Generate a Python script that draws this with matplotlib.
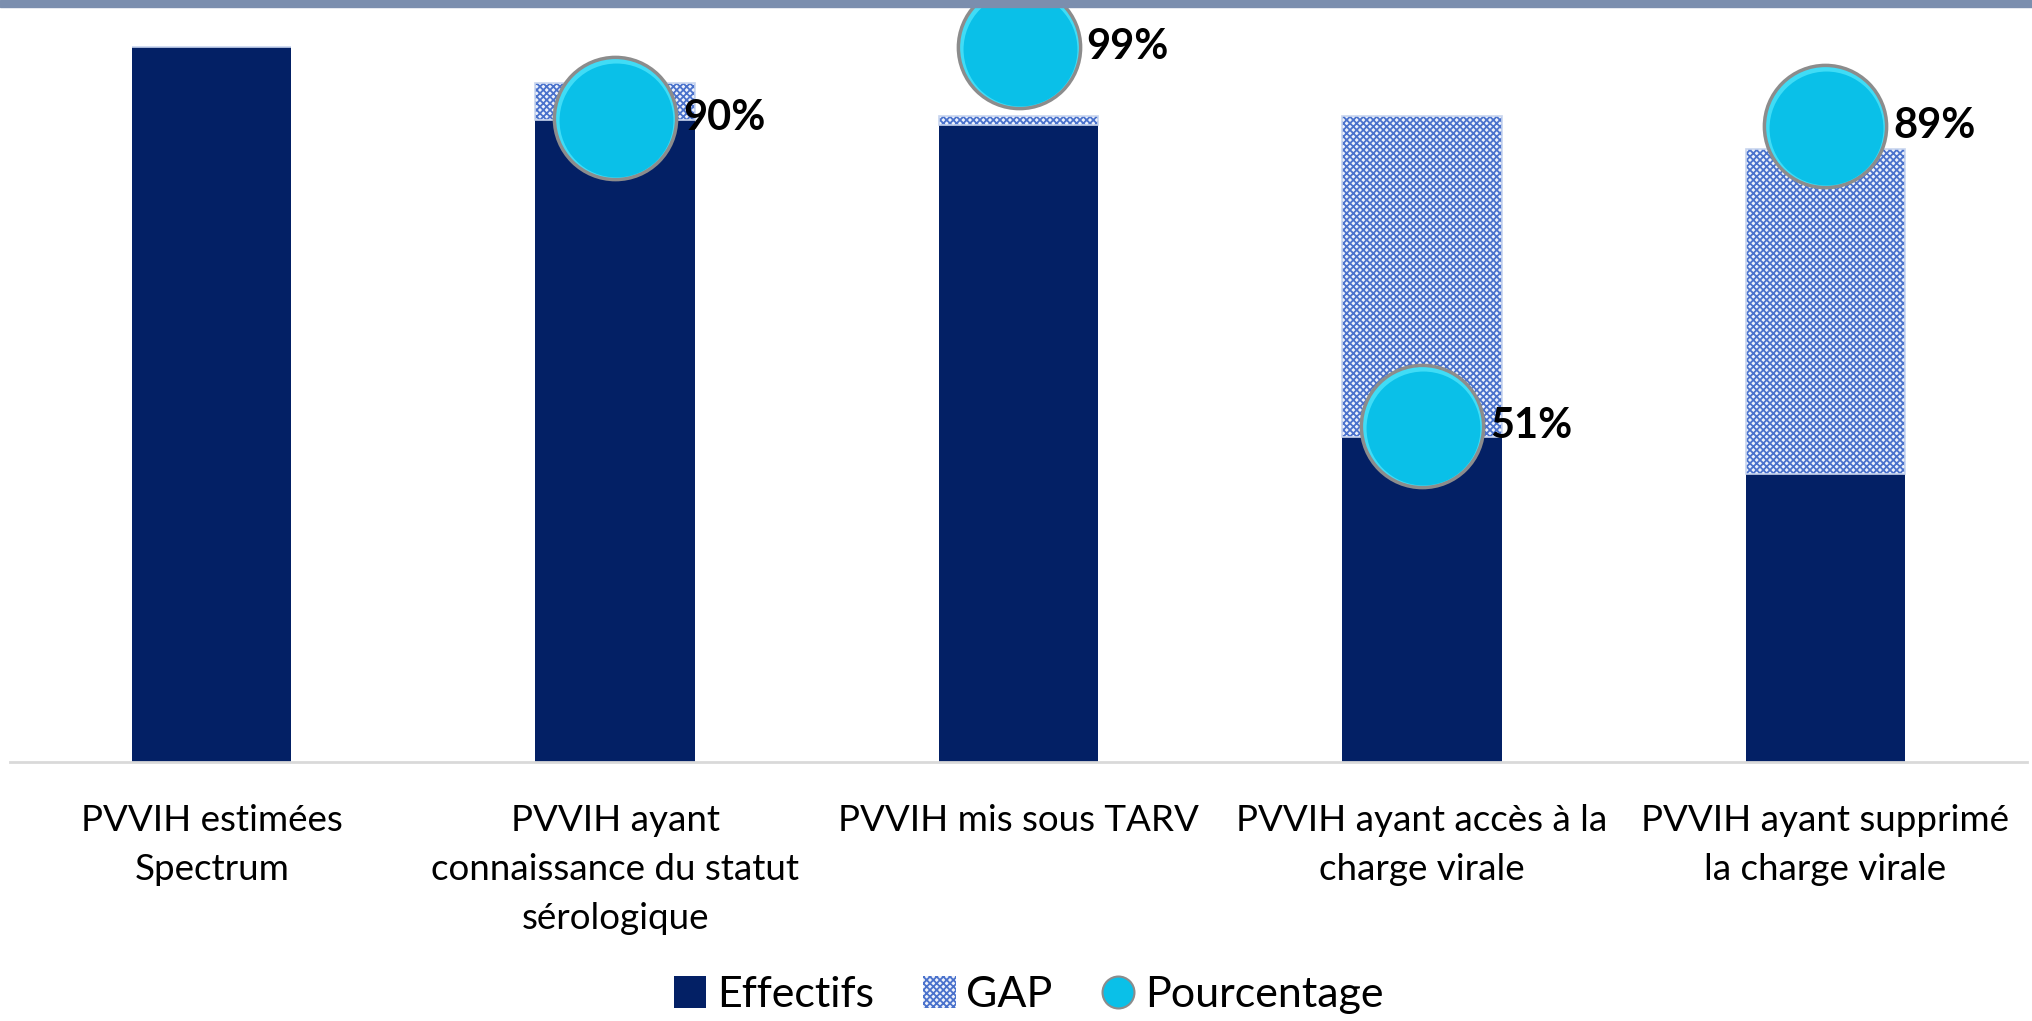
import matplotlib
matplotlib.use('Agg')
import matplotlib.pyplot as plt
from matplotlib.patches import Patch, Rectangle
from matplotlib.lines import Line2D
from matplotlib.transforms import offset_copy
import numpy as np

plt.rcParams['font.family'] = ['Lato', 'DejaVu Sans']
plt.rcParams['hatch.linewidth'] = 1.3

# ---- données ----
categories = [
    "PVVIH estimées\nSpectrum",
    "PVVIH ayant\nconnaissance du statut\nsérologique",
    "PVVIH mis sous TARV",
    "PVVIH ayant accès à la\ncharge virale",
    "PVVIH ayant supprimé\nla charge virale",
]
effectifs = [10000, 8980, 8910, 4540, 4030]
gap = [0, 520, 115, 4485, 4544]
pourcentage = [np.nan, 90, 99, 51, 89]
pct_labels = ["", "90%", "99%", "51%", "89%"]

NAVY = '#032065'
HATCH = '#4a72cc'
CYAN = '#0ac0e8'
CYAN_LIGHT = '#40dcf6'
EDGE = '#8c8c8c'

W, H = 2033, 1021
fig = plt.figure(figsize=(W / 100, H / 100), dpi=100)
ax = fig.add_axes([10 / W, 1 - 762 / H, 2017 / W, (762 - 13) / H])

x = np.arange(len(categories))
bw = 0.395
ax.bar(x, effectifs, width=bw, color=NAVY, zorder=2)
ax.bar(x, gap, bottom=effectifs, width=bw, facecolor='#eef2fb', edgecolor=HATCH,
       hatch='xxxxx', linewidth=0, zorder=2)
ax.bar(x, gap, bottom=effectifs, width=bw, fill=False, edgecolor='#c8d5ef',
       linewidth=1.2, zorder=3)

ax.set_xlim(-0.5, 4.5)
ax.set_ylim(0, 10472)
for s in ['top', 'right', 'left']:
    ax.spines[s].set_visible(False)
ax.spines['bottom'].set_color('#d9d9d9')
ax.spines['bottom'].set_linewidth(2)
ax.set_yticks([])
ax.set_xticks(x)
ax.set_xticklabels(categories, fontsize=26.5, linespacing=1.6)
ax.tick_params(axis='x', length=0, pad=30)

# pourcentages sur axe secondaire (billes)
ax2 = ax.twinx()
ax2.set_ylim(8.4, 103.3)
ax2.axis('off')
ax2.plot(x, pourcentage, 'o', ms=88, mfc=CYAN_LIGHT, mec=EDGE, mew=2.5,
         clip_on=False, zorder=5)
shade = offset_copy(ax2.transData, fig=fig, x=0.8, y=-1.8, units='points')
ax2.plot(x, pourcentage, 'o', ms=82, mfc=CYAN, mec='none', transform=shade,
         clip_on=False, zorder=5)
for xi, p, lab in zip(x, pourcentage, pct_labels):
    if lab:
        ax2.annotate(lab, (xi, p), xytext=(49, 0), textcoords='offset points',
                     ha='left', va='center', fontsize=30, fontweight='bold',
                     zorder=6)

# bandeau en haut
fig.add_artist(Rectangle((0, 1 - 7 / H), 1, 7 / H, transform=fig.transFigure,
                         color='#7b8eae', zorder=10))

handles = [
    Patch(facecolor=NAVY),
    Patch(facecolor='#eef2fb', edgecolor=HATCH, hatch='xxxxx', linewidth=0),
    Line2D([], [], marker='o', ls='', ms=23, mfc=CYAN, mec=EDGE, mew=1.5),
]
fig.legend(handles, ["Effectifs", "GAP", "Pourcentage"], loc='center',
           bbox_to_anchor=(0.506, 1 - 995 / H), ncol=3, frameon=False,
           fontsize=31, handlelength=0.75, handleheight=0.75,
           handletextpad=0.25, columnspacing=1.15)

fig.savefig('out.png', dpi=100)
